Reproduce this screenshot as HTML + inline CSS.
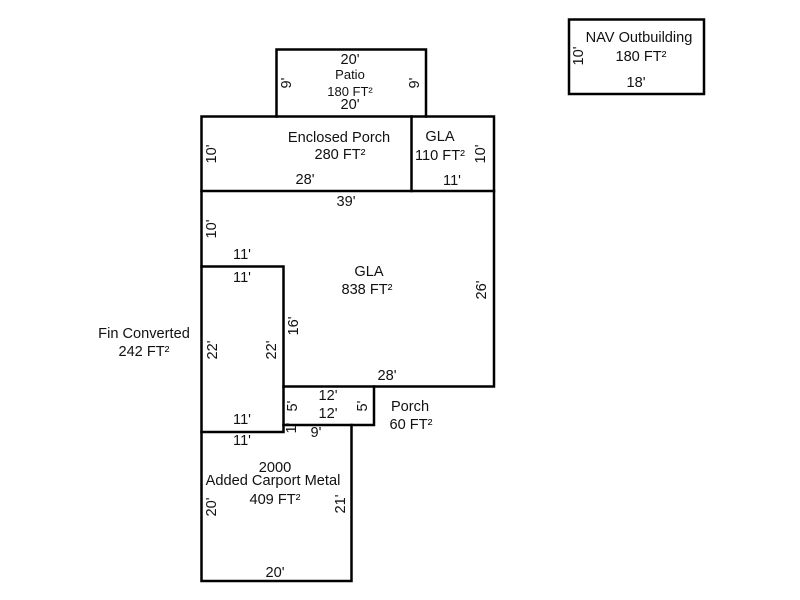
<!DOCTYPE html>
<html>
<head>
<meta charset="utf-8">
<style>
html,body{margin:0;padding:0;background:#fff;width:800px;height:600px;overflow:hidden}
svg{display:block}
text{font-family:"Liberation Sans",Arial,sans-serif;font-size:14.6px;fill:#111;text-anchor:middle}
text.s{font-size:13px}
path{fill:none;stroke:#000;stroke-width:2.5;stroke-linecap:square;stroke-linejoin:miter}
</style>
</head>
<body>
<svg width="800" height="600" viewBox="0 0 800 600" xmlns="http://www.w3.org/2000/svg">
<path d="M569 19.5H704V94H569Z"/>
<path d="M276.5 116.5V49.5H426V116.5"/>
<path d="M201.5 116.5H494V386.5H283.5V266.5H201.5Z"/>
<path d="M201.5 191H494"/>
<path d="M411.5 116.5V191"/>
<path d="M201.5 266.5V581H351.5V425"/>
<path d="M201.5 432H283.5V386.5"/>
<path d="M283.5 425H374V386.5"/>

<text x="350" y="64">20'</text>
<text class="s" x="350" y="79">Patio</text>
<text class="s" x="350" y="96">180 FT²</text>
<text x="350" y="109">20'</text>
<text transform="translate(291,83) rotate(-90)">9'</text>
<text transform="translate(419,83) rotate(-90)">9'</text>

<text x="339" y="142">Enclosed Porch</text>
<text x="340" y="159">280 FT²</text>
<text x="305" y="184">28'</text>
<text transform="translate(216,154) rotate(-90)">10'</text>

<text x="440" y="141">GLA</text>
<text x="440" y="160">110 FT²</text>
<text x="452" y="185">11'</text>
<text transform="translate(485,154) rotate(-90)">10'</text>

<text x="346" y="206">39'</text>
<text transform="translate(216,229) rotate(-90)">10'</text>
<text x="242" y="259">11'</text>
<text x="369" y="276">GLA</text>
<text x="367" y="294">838 FT²</text>
<text transform="translate(486,290) rotate(-90)">26'</text>
<text transform="translate(298,326) rotate(-90)">16'</text>
<text x="387" y="380">28'</text>

<text x="242" y="282">11'</text>
<text x="144" y="338">Fin Converted</text>
<text x="144" y="356">242 FT²</text>
<text transform="translate(217,350) rotate(-90)">22'</text>
<text transform="translate(276,350) rotate(-90)">22'</text>
<text x="242" y="424">11'</text>

<text x="328" y="400">12'</text>
<text x="328" y="418">12'</text>
<text transform="translate(297,406) rotate(-90)">5'</text>
<text transform="translate(367,406) rotate(-90)">5'</text>
<text x="410" y="411">Porch</text>
<text x="411" y="429">60 FT²</text>
<text transform="translate(296,428) rotate(-90)">1'</text>
<text x="316" y="437">9'</text>

<text x="242" y="445">11'</text>
<text x="275" y="472">2000</text>
<text x="273" y="485">Added Carport Metal</text>
<text x="275" y="504">409 FT²</text>
<text transform="translate(216,507) rotate(-90)">20'</text>
<text transform="translate(345,504) rotate(-90)">21'</text>
<text x="275" y="577">20'</text>

<text x="639" y="42">NAV Outbuilding</text>
<text x="641" y="61">180 FT²</text>
<text x="636" y="87">18'</text>
<text transform="translate(583,56) rotate(-90)">10'</text>
</svg>
</body>
</html>
